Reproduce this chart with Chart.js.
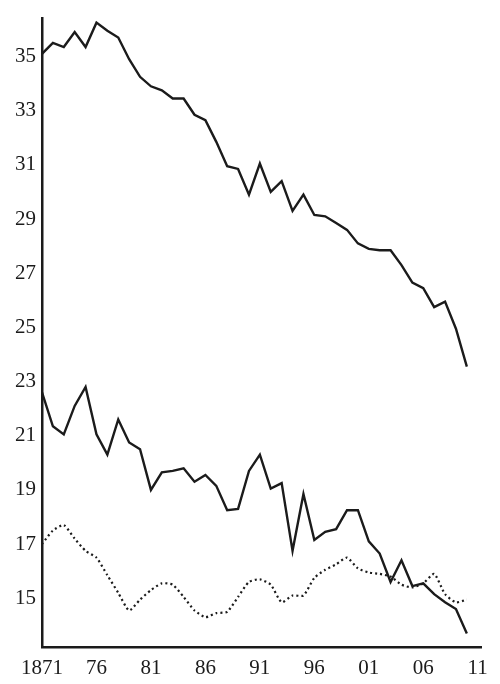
<!DOCTYPE html>
<html>
<head>
<meta charset="utf-8">
<script src="https://cdn.jsdelivr.net/npm/chart.js@4/dist/chart.umd.min.js"></script>
<style>
  html, body { margin: 0; padding: 0; background: #fff; }
  #wrap { width: 500px; height: 684px; }
</style>
</head>
<body>
<div id="wrap"><canvas id="myChart" width="500" height="684"></canvas></div>
<script>
// years 1871..1910
const years = [];
for (let y = 1871; y <= 1910; y++) years.push(y);

const upperRate = [35.1, 35.5, 35.35, 35.9, 35.35, 36.25, 35.95, 35.7, 34.9, 34.25,
  33.9, 33.75, 33.45, 33.45, 32.85, 32.65, 31.85, 30.95, 30.85, 29.9,
  31.05, 30.0, 30.4, 29.3, 29.9, 29.15, 29.1, 28.85, 28.6, 28.1,
  27.9, 27.85, 27.85, 27.3, 26.65, 26.45, 25.75, 25.95, 24.95, 23.55];

const middleRate = [22.6, 21.35, 21.05, 22.1, 22.8, 21.05, 20.3, 21.6, 20.75, 20.5,
  19.0, 19.65, 19.7, 19.8, 19.3, 19.55, 19.15, 18.25, 18.3, 19.7,
  20.3, 19.05, 19.25, 16.75, 18.85, 17.15, 17.45, 17.55, 18.25, 18.25,
  17.1, 16.65, 15.6, 16.4, 15.45, 15.55, 15.15, 14.85, 14.6, 13.7];

const dottedRate = [17.0, 17.5, 17.7, 17.2, 16.75, 16.5, 15.85, 15.2, 14.55, 14.95,
  15.3, 15.55, 15.5, 15.05, 14.55, 14.3, 14.45, 14.5, 15.05, 15.6,
  15.7, 15.5, 14.85, 15.1, 15.1, 15.75, 16.05, 16.25, 16.5, 16.1,
  15.95, 15.9, 15.8, 15.5, 15.4, 15.55, 15.9, 15.15, 14.85, 14.95];

const xTicks = [1871, 1876, 1881, 1886, 1891, 1896, 1901, 1906, 1911];
const xTickLabels = ["1871", "76", "81", "86", "91", "96", "01", "06", "11"];
const yTicks = [15, 17, 19, 21, 23, 25, 27, 29, 31, 33, 35];

const toPoints = vals => vals.map((v, i) => ({ x: years[i], y: v }));
const ink = "#1b1b1b";

const chart = new Chart(document.getElementById("myChart"), {
  type: "line",
  data: {
    datasets: [
      { data: toPoints(upperRate), borderColor: ink, borderWidth: 2.4, pointRadius: 0, tension: 0 },
      { data: toPoints(middleRate), borderColor: ink, borderWidth: 2.4, pointRadius: 0, tension: 0 },
      { data: toPoints(dottedRate), borderColor: ink, borderWidth: 2.2, borderDash: [2, 3], pointRadius: 0, tension: 0.2 }
    ]
  },
  options: {
    responsive: false,
    animation: false,
    layout: { padding: { top: 8, right: 19, left: 0, bottom: 0 } },
    plugins: { legend: { display: false }, tooltip: { enabled: false } },
    scales: {
      x: {
        type: "linear",
        min: 1871,
        max: 1911.3,
        grid: { display: false, drawTicks: false },
        border: { display: true, color: ink, width: 2.5 },
        afterBuildTicks: s => { s.ticks = xTicks.map(v => ({ value: v })); },
        afterFit: s => { s.height = 37; },
        ticks: {
          padding: 9,
          color: ink,
          maxRotation: 0,
          autoSkip: false,
          font: { family: "Liberation Serif", size: 21 },
          callback: v => xTickLabels[xTicks.indexOf(v)]
        }
      },
      y: {
        min: 13.2,
        max: 36.4,
        grid: { display: false, drawTicks: false },
        border: { display: true, color: ink, width: 2.5 },
        afterBuildTicks: s => { s.ticks = yTicks.map(v => ({ value: v })); },
        afterFit: s => { s.width = 42; },
        ticks: {
          padding: 6,
          color: ink,
          font: { family: "Liberation Serif", size: 21 }
        }
      }
    }
  }
});
</script>
</body>
</html>
